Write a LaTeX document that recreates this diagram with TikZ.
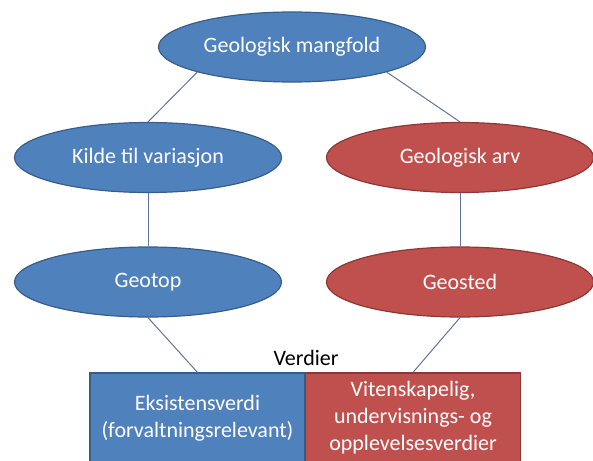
\documentclass[tikz,border=0pt]{standalone}
\usepackage{fontspec}
\setmainfont{Carlito}
\usepackage{tikz}
\usetikzlibrary{positioning,shapes.geometric}
\definecolor{geoblue}{RGB}{79,129,189}
\definecolor{geoblueline}{RGB}{56,93,138}
\definecolor{geored}{RGB}{192,80,77}
\definecolor{georedline}{RGB}{140,56,54}
\definecolor{linkgray}{RGB}{96,116,156}
\tikzstyle{gellipse}=[ellipse,draw=geoblueline,fill=geoblue,line width=0.6pt,inner sep=0pt,
                  minimum width=133.5pt,minimum height=35pt,text=white,font=\fontsize{11}{13.5}\selectfont]
\tikzstyle{rellipse}=[gellipse,draw=georedline,fill=geored]
\tikzstyle{vbox}=[rectangle,draw=geoblueline,fill=geoblue,line width=0.6pt,inner sep=0pt,
                  minimum width=107.5pt,minimum height=45pt,align=center,text=white,
                  font=\fontsize{11}{13.5}\selectfont]
\tikzstyle{link}=[draw=linkgray,line width=0.5pt]

\begin{document}
\begin{tikzpicture}[x=0.5pt,y=-0.5pt]
      \useasboundingbox (0,0) rectangle (593,460);
      \node[gellipse] (mangfold) at (292,47) {Geologisk mangfold};
      \node[gellipse] (kilde) at (148,157.5) {Kilde til variasjon};
      \node[rellipse] (arv) at (460,157.5) {Geologisk arv};
      \node[gellipse] (geotop) at (148,282) {Geotop};
      \node[rellipse] (geosted) at (460,282) {Geosted};
      \node[vbox] (eksist) at (197.5,418) {Eksistensverdi\\(forvaltningsrelevant)};
      \node[vbox,draw=georedline,fill=geored] (viten) at (413,418) {Vitenskapelig,\\undervisnings- og\\opplevelsesverdier};
      \node[font=\fontsize{11}{13.5}\selectfont,anchor=base] (verdier) at (306,365) {Verdier};

      \draw[link] (mangfold.south west)--(kilde.north);
      \draw[link] (mangfold.south east)--(arv.north);
      \draw[link] (kilde)--(geotop);
      \draw[link] (arv)--(geosted);
      \draw[link] (geotop.south)--(eksist.north);
      \draw[link] (geosted.south)--(viten.north);
    \end{tikzpicture}
\end{document}
